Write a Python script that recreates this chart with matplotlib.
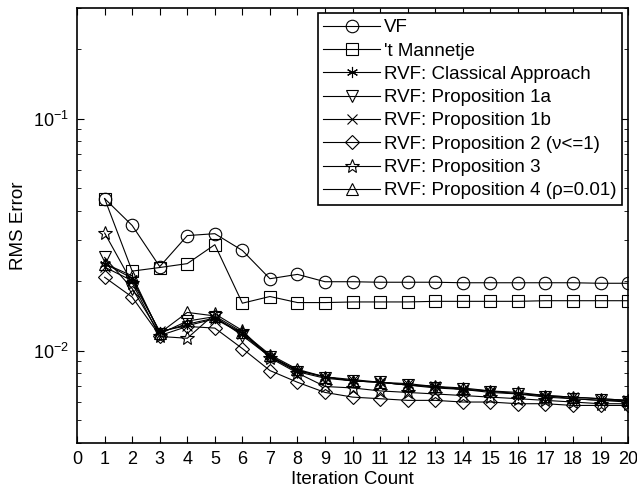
import matplotlib
matplotlib.use("Agg")
import matplotlib.pyplot as plt

plt.rcParams["font.family"] = ["Liberation Sans", "DejaVu Sans"]
plt.rcParams["mathtext.fontset"] = "custom"
plt.rcParams["mathtext.rm"] = "Liberation Sans"

# -----------------------------
# datos
# -----------------------------
iteraciones = list(range(1, 21))

vf = [0.0452, 0.0346, 0.0230, 0.0313, 0.0319, 0.0270, 0.0204, 0.0213, 0.0198, 0.0198,
      0.0197, 0.0197, 0.0197, 0.0196, 0.0196, 0.0196, 0.0196, 0.0196, 0.0195, 0.0195]
mannetje = [0.0452, 0.0220, 0.0228, 0.0237, 0.0286, 0.0160, 0.0171, 0.0161, 0.0161, 0.0162,
            0.0162, 0.0162, 0.0163, 0.0163, 0.0163, 0.0163, 0.0164, 0.0164, 0.0164, 0.0164]
rvf_clasico = [0.0237, 0.0205, 0.0120, 0.0130, 0.0138, 0.0119, 0.0095, 0.0082, 0.0077, 0.0074,
               0.0073, 0.0071, 0.0070, 0.0068, 0.0067, 0.0065, 0.0064, 0.0062, 0.0061, 0.0061]
rvf_1a = [0.0252, 0.0185, 0.0118, 0.0134, 0.0140, 0.0116, 0.0094, 0.0081, 0.0076, 0.0074,
          0.0073, 0.0071, 0.0069, 0.0068, 0.0066, 0.0065, 0.0063, 0.0062, 0.0061, 0.0060]
rvf_1b = [0.0229, 0.0200, 0.0121, 0.0128, 0.0137, 0.0118, 0.0094, 0.0082, 0.0077, 0.0075,
          0.0073, 0.0072, 0.0070, 0.0068, 0.0067, 0.0065, 0.0064, 0.0063, 0.0062, 0.0061]
rvf_2 = [0.0207, 0.0170, 0.0116, 0.0127, 0.0125, 0.0102, 0.0082, 0.0073, 0.0066, 0.0063,
         0.0062, 0.0061, 0.0061, 0.0060, 0.0060, 0.0059, 0.0059, 0.0058, 0.0058, 0.0058]
rvf_3 = [0.0321, 0.0196, 0.0115, 0.0113, 0.0144, 0.0122, 0.0093, 0.0080, 0.0070, 0.0069,
         0.0067, 0.0066, 0.0065, 0.0064, 0.0063, 0.0062, 0.0061, 0.0060, 0.0059, 0.0059]
rvf_4 = [0.0237, 0.0210, 0.0119, 0.0146, 0.0141, 0.0120, 0.0096, 0.0083, 0.0077, 0.0074,
         0.0073, 0.0071, 0.0070, 0.0069, 0.0067, 0.0066, 0.0064, 0.0063, 0.0062, 0.0061]

# (etiqueta, valores, marcador, tamaño)
series = [
    ("VF", vf, "o", 9),
    ("'t Mannetje", mannetje, "s", 8),
    ("RVF: Classical Approach", rvf_clasico, (6, 2, 0), 8),   # asterisco estilo matlab
    ("RVF: Proposition 1a", rvf_1a, "v", 9),
    ("RVF: Proposition 1b", rvf_1b, "x", 7),
    ("RVF: Proposition 2 (\u03bd<=1)", rvf_2, "D", 7),
    ("RVF: Proposition 3", rvf_3, "*", 10),                  # pentagrama hueco
    ("RVF: Proposition 4 (\u03c1=0.01)", rvf_4, "^", 9),
]

fig = plt.figure(figsize=(6.37, 4.91), dpi=100)
ax = fig.add_axes([0.121, 0.098, 0.865, 0.886])

for nombre, valores, marca, tam in series:
    ax.plot(iteraciones, valores, color="black", lw=0.8, marker=marca,
            markersize=tam, mfc="none", mec="black", mew=0.8, label=nombre)

ax.set_yscale("log")
ax.set_xlim(0, 20)
ax.set_ylim(0.004, 0.3)
ax.set_xticks(range(0, 21))
ax.set_yticks([0.01, 0.1])
ax.set_yticklabels([r"$10^{-2}$", r"$10^{-1}$"])
ax.tick_params(axis="both", which="both", direction="in", top=True, right=True,
               labelsize=13)
ax.tick_params(axis="both", which="major", length=5, pad=6)
ax.tick_params(axis="y", which="minor", length=3)
for s in ax.spines.values():
    s.set_linewidth(1.2)

ax.set_xlabel("Iteration Count", fontsize=13.5, labelpad=2)
ax.set_ylabel("RMS Error", fontsize=13.5, labelpad=4)

leg = ax.legend(loc="upper right", fontsize=13.5, fancybox=False, framealpha=1,
                edgecolor="black", handlelength=3.0, borderpad=0.3,
                labelspacing=0.33, handletextpad=0.25, borderaxespad=0.3)
leg.get_frame().set_linewidth(1.2)

fig.savefig("out.png", dpi=100)
